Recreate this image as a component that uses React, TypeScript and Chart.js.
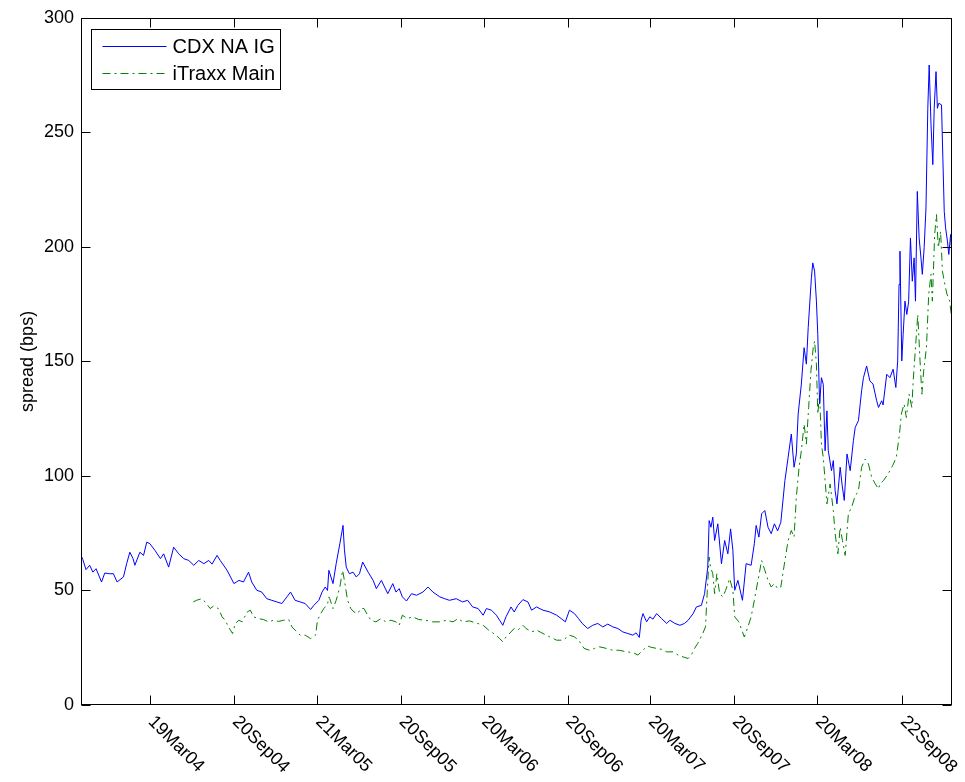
import React, { useEffect, useRef } from "react";
import { Chart, registerables } from "chart.js";

Chart.register(...registerables);

const FONT = '"Liberation Sans", Arial, Helvetica, sans-serif';

const xStart = "2003-10-20";
const xEnd = "2009-01-09";

const tickDates = [
  "2004-03-19", "2004-09-20", "2005-03-21", "2005-09-20", "2006-03-20",
  "2006-09-20", "2007-03-20", "2007-09-20", "2008-03-20", "2008-09-22",
];
const tickLabels = [
  "19Mar04", "20Sep04", "21Mar05", "20Sep05", "20Mar06",
  "20Sep06", "20Mar07", "20Sep07", "20Mar08", "22Sep08",
];
const yMin = 0;
const yMax = 300;
const yStep = 50;
const yTitle = "spread (bps)";
const seriesNames = ["CDX NA IG", "iTraxx Main"];

const cdx: [string, number][] = [
  ["2003-10-20", 65.3], ["2003-10-24", 63.5], ["2003-10-31", 59.1], ["2003-11-08", 61], ["2003-11-15", 58],
  ["2003-11-22", 59.5], ["2003-12-04", 53.7], ["2003-12-11", 57.6], ["2003-12-22", 57.3], ["2003-12-30", 57.3],
  ["2004-01-07", 53.7], ["2004-01-21", 55.9], ["2004-01-28", 61.7], ["2004-02-04", 66.7], ["2004-02-11", 63.9],
  ["2004-02-15", 61], ["2004-02-26", 66.7], ["2004-03-05", 65.3], ["2004-03-12", 71.1], ["2004-03-19", 70.4],
  ["2004-03-30", 67.5], ["2004-04-11", 63.9], ["2004-04-18", 66], ["2004-04-29", 60.2], ["2004-05-10", 68.9],
  ["2004-05-21", 66], ["2004-06-01", 63.9], ["2004-06-12", 63.1], ["2004-06-23", 61], ["2004-07-04", 63.1],
  ["2004-07-15", 61.7], ["2004-07-26", 63.1], ["2004-08-02", 61.5], ["2004-08-13", 65.3], ["2004-08-20", 63.1],
  ["2004-09-04", 58.8], ["2004-09-19", 53], ["2004-09-30", 54.4], ["2004-10-10", 53.7], ["2004-10-21", 58],
  ["2004-10-28", 53.7], ["2004-11-08", 50.1], ["2004-11-19", 49.3], ["2004-11-30", 46.4], ["2004-12-11", 45.7],
  ["2004-12-22", 45], ["2005-01-02", 44.3], ["2005-01-13", 47.2], ["2005-01-21", 49.3], ["2005-01-31", 45.7],
  ["2005-02-11", 45], ["2005-02-22", 44.3], ["2005-03-06", 41.7], ["2005-03-13", 43.5], ["2005-03-24", 45.7],
  ["2005-03-31", 49.3], ["2005-04-07", 51.5], ["2005-04-12", 50], ["2005-04-15", 58.8], ["2005-04-24", 53],
  ["2005-05-01", 61.7], ["2005-05-09", 70.4], ["2005-05-16", 78.4], ["2005-05-19", 68], ["2005-05-23", 60.2],
  ["2005-05-30", 57.3], ["2005-06-07", 58], ["2005-06-14", 55.9], ["2005-06-21", 57.3], ["2005-06-28", 62.4],
  ["2005-07-10", 58], ["2005-07-21", 54.4], ["2005-07-28", 50.8], ["2005-08-08", 54.4], ["2005-08-15", 51.5],
  ["2005-08-22", 48.6], ["2005-09-02", 53], ["2005-09-09", 49.3], ["2005-09-16", 50.8], ["2005-09-23", 47.2],
  ["2005-10-02", 45.4], ["2005-10-13", 48.6], ["2005-10-24", 47.9], ["2005-11-07", 49.3], ["2005-11-18", 51.5],
  ["2005-11-29", 49.3], ["2005-12-14", 47.2], ["2005-12-25", 46.4], ["2006-01-04", 45.7], ["2006-01-19", 46.4],
  ["2006-02-02", 45], ["2006-02-13", 45.7], ["2006-02-24", 42.8], ["2006-03-08", 42.1], ["2006-03-19", 39.2],
  ["2006-03-26", 42.1], ["2006-04-06", 41.4], ["2006-04-17", 39.2], ["2006-04-24", 37], ["2006-05-01", 34.8],
  ["2006-05-08", 38.5], ["2006-05-19", 42.8], ["2006-05-26", 40.6], ["2006-06-03", 43.5], ["2006-06-14", 46],
  ["2006-06-25", 45], ["2006-07-03", 41.4], ["2006-07-14", 42.8], ["2006-07-28", 41.4], ["2006-08-12", 40.6],
  ["2006-08-27", 39.2], ["2006-09-06", 37.7], ["2006-09-15", 36.3], ["2006-09-24", 41.4], ["2006-10-05", 39.9],
  ["2006-10-14", 37.7], ["2006-10-22", 35.6], ["2006-11-03", 33.4], ["2006-11-14", 34.8], ["2006-11-25", 35.6],
  ["2006-12-06", 34.1], ["2006-12-17", 35.3], ["2006-12-28", 34.1], ["2007-01-08", 33.4], ["2007-01-19", 31.9],
  ["2007-01-30", 31.2], ["2007-02-10", 30.5], ["2007-02-17", 31.5], ["2007-02-24", 29.5], ["2007-02-28", 37],
  ["2007-03-04", 39.9], ["2007-03-12", 36.3], ["2007-03-19", 38.5], ["2007-03-26", 37.5], ["2007-04-03", 39.9],
  ["2007-04-14", 37.7], ["2007-04-25", 35.6], ["2007-05-02", 37], ["2007-05-13", 35.6], ["2007-05-24", 34.8],
  ["2007-06-03", 35.6], ["2007-06-11", 37], ["2007-06-22", 39.9], ["2007-06-29", 42.8], ["2007-07-10", 43.5],
  ["2007-07-17", 48.6], ["2007-07-24", 60.2], ["2007-07-27", 80.5], ["2007-07-31", 77.6], ["2007-08-04", 82],
  ["2007-08-08", 71.8], ["2007-08-15", 79.1], ["2007-08-23", 61.7], ["2007-08-30", 71.8], ["2007-09-06", 66],
  ["2007-09-12", 76.9], ["2007-09-17", 67.5], ["2007-09-21", 50.1], ["2007-09-28", 54.4], ["2007-10-08", 45.7],
  ["2007-10-16", 61.7], ["2007-10-27", 61], ["2007-11-03", 70.4], ["2007-11-07", 78.4], ["2007-11-13", 73.3],
  ["2007-11-19", 83.5], ["2007-11-26", 84.9], ["2007-12-03", 77.6], ["2007-12-10", 74.8], ["2007-12-17", 79.1],
  ["2007-12-24", 76], ["2007-12-31", 79.8], ["2008-01-09", 98], ["2008-01-16", 108.1], ["2008-01-23", 118.3],
  ["2008-01-29", 103.8], ["2008-02-03", 109.6], ["2008-02-07", 127], ["2008-02-14", 140.1], ["2008-02-20", 156],
  ["2008-02-25", 148.8], ["2008-02-29", 164.7], ["2008-03-07", 186.5], ["2008-03-10", 193], ["2008-03-14", 189.4],
  ["2008-03-18", 176.3], ["2008-03-21", 161.8], ["2008-03-25", 131.4], ["2008-03-29", 142.9], ["2008-04-02", 140],
  ["2008-04-06", 111], ["2008-04-10", 128.4], ["2008-04-13", 111], ["2008-04-20", 102.3], ["2008-04-24", 106.7],
  ["2008-04-28", 93.6], ["2008-05-02", 87.8], ["2008-05-09", 103.8], ["2008-05-13", 96.5], ["2008-05-18", 89.3],
  ["2008-05-24", 109.6], ["2008-05-31", 102.3], ["2008-06-07", 115.4], ["2008-06-11", 121.2], ["2008-06-18", 124.1],
  ["2008-06-25", 137.2], ["2008-06-29", 142.9], ["2008-07-06", 148], ["2008-07-13", 141.5], ["2008-07-20", 140.1],
  ["2008-07-28", 132.8], ["2008-08-01", 129.9], ["2008-08-08", 132.8], ["2008-08-11", 131], ["2008-08-19", 144.4],
  ["2008-08-26", 142.9], ["2008-09-02", 146.6], ["2008-09-08", 138.6], ["2008-09-12", 150.2], ["2008-09-15", 183.6],
  ["2008-09-17", 198.1], ["2008-09-21", 150.2], ["2008-09-24", 161.8], ["2008-09-28", 176.3], ["2008-10-02", 170.5],
  ["2008-10-06", 176], ["2008-10-10", 203.9], ["2008-10-14", 185], ["2008-10-18", 195.2], ["2008-10-21", 176.3],
  ["2008-10-25", 224.2], ["2008-10-29", 203.9], ["2008-11-02", 195.2], ["2008-11-05", 188], ["2008-11-09", 199.6],
  ["2008-11-13", 217], ["2008-11-17", 260.5], ["2008-11-20", 279.4], ["2008-11-24", 253.3], ["2008-11-28", 235.9],
  ["2008-12-01", 260.5], ["2008-12-05", 276.5], ["2008-12-08", 260.5], ["2008-12-11", 262.7], ["2008-12-17", 262],
  ["2008-12-20", 238.7], ["2008-12-23", 215.5], ["2008-12-26", 208.3], ["2008-12-30", 202.5], ["2009-01-02", 196.7],
  ["2009-01-06", 205.4], ["2009-01-09", 195.2],
];

const itraxx: [string, number][] = [
  ["2004-06-22", 45], ["2004-06-29", 45.7], ["2004-07-10", 46.4], ["2004-07-18", 45], ["2004-07-29", 42.1],
  ["2004-08-05", 43.1], ["2004-08-16", 42.1], ["2004-08-24", 38.5], ["2004-08-31", 37], ["2004-09-07", 34.1],
  ["2004-09-16", 31.2], ["2004-09-22", 35.6], ["2004-09-30", 37], ["2004-10-07", 36.3], ["2004-10-18", 40.6],
  ["2004-10-25", 41.4], ["2004-11-01", 38.5], ["2004-11-12", 37.7], ["2004-11-23", 37.3], ["2004-12-04", 36.3],
  ["2004-12-15", 37], ["2004-12-26", 36.5], ["2005-01-06", 37], ["2005-01-17", 37.3], ["2005-01-24", 34.1],
  ["2005-01-31", 32.7], ["2005-02-11", 30.5], ["2005-02-22", 30.5], ["2005-03-06", 29], ["2005-03-17", 30.5],
  ["2005-03-21", 37], ["2005-03-28", 39.9], ["2005-04-04", 42.1], ["2005-04-12", 44], ["2005-04-15", 47.2],
  ["2005-04-17", 46.4], ["2005-04-24", 42.1], ["2005-05-01", 45.7], ["2005-05-09", 51.5], ["2005-05-15", 58.8],
  ["2005-05-19", 54.4], ["2005-05-26", 45.7], ["2005-06-02", 42.1], ["2005-06-09", 40.6], ["2005-06-17", 39.9],
  ["2005-06-24", 42.1], ["2005-07-01", 42.1], ["2005-07-09", 39.2], ["2005-07-16", 37], ["2005-07-27", 36.3],
  ["2005-08-07", 37.7], ["2005-08-18", 36.3], ["2005-08-29", 37], ["2005-09-09", 36.3], ["2005-09-16", 34.8],
  ["2005-09-23", 39.2], ["2005-10-04", 37.7], ["2005-10-15", 38.5], ["2005-10-29", 37.3], ["2005-11-13", 37],
  ["2005-11-28", 36.3], ["2005-12-14", 36.3], ["2005-12-29", 37], ["2006-01-12", 36.3], ["2006-01-23", 37.7],
  ["2006-02-03", 36.3], ["2006-02-17", 36.7], ["2006-03-04", 35.8], ["2006-03-19", 34.8], ["2006-03-31", 32.7],
  ["2006-04-16", 30.5], ["2006-04-24", 29], ["2006-05-01", 27.6], ["2006-05-08", 29.7], ["2006-05-19", 31.9],
  ["2006-05-26", 33.4], ["2006-06-03", 32.7], ["2006-06-14", 34.8], ["2006-06-21", 33.4], ["2006-07-03", 31.9],
  ["2006-07-14", 32.7], ["2006-07-28", 31.2], ["2006-08-12", 29.7], ["2006-08-27", 28.3], ["2006-09-10", 28.3],
  ["2006-09-24", 30.5], ["2006-10-05", 29.7], ["2006-10-14", 28.3], ["2006-10-26", 24.7], ["2006-11-07", 23.9],
  ["2006-11-18", 24.7], ["2006-11-29", 25.4], ["2006-12-14", 24.7], ["2006-12-28", 23.9], ["2007-01-11", 23.9],
  ["2007-01-27", 23.2], ["2007-02-10", 22.9], ["2007-02-21", 21.8], ["2007-02-28", 23.2], ["2007-03-08", 24.7],
  ["2007-03-15", 25.7], ["2007-03-22", 25.2], ["2007-04-03", 24.7], ["2007-04-14", 24.3], ["2007-04-25", 23.2],
  ["2007-05-09", 23.2], ["2007-05-20", 21.8], ["2007-05-31", 21], ["2007-06-11", 20.3], ["2007-06-18", 21.8],
  ["2007-06-25", 24.7], ["2007-07-02", 26.9], ["2007-07-13", 31.2], ["2007-07-19", 34.1], ["2007-07-23", 50.1],
  ["2007-07-27", 64.6], ["2007-07-30", 60.2], ["2007-08-04", 57.3], ["2007-08-08", 48.6], ["2007-08-13", 57.3],
  ["2007-08-19", 48.6], ["2007-08-26", 47.2], ["2007-09-01", 50], ["2007-09-10", 55.2], ["2007-09-17", 50.1],
  ["2007-09-21", 38.5], ["2007-09-30", 36.3], ["2007-10-12", 29.7], ["2007-10-20", 34.1], ["2007-10-27", 38.5],
  ["2007-11-03", 45.7], ["2007-11-11", 54.4], ["2007-11-19", 63.1], ["2007-11-26", 58.8], ["2007-12-03", 54.4],
  ["2007-12-10", 51.5], ["2007-12-17", 53], ["2007-12-24", 50.8], ["2007-12-31", 51.5], ["2008-01-09", 63.1],
  ["2008-01-16", 71.8], ["2008-01-23", 76.2], ["2008-01-29", 73.3], ["2008-02-03", 90.7], ["2008-02-09", 103.8],
  ["2008-02-14", 111], ["2008-02-20", 122.6], ["2008-02-25", 113.9], ["2008-03-01", 129.9], ["2008-03-06", 145.9],
  ["2008-03-11", 156], ["2008-03-14", 158.9], ["2008-03-18", 148.8], ["2008-03-21", 127], ["2008-03-25", 135.7],
  ["2008-03-29", 113.9], ["2008-04-02", 108.1], ["2008-04-06", 98], ["2008-04-10", 87.8], ["2008-04-17", 96.5],
  ["2008-04-24", 84.9], ["2008-04-28", 74.8], ["2008-05-04", 66], ["2008-05-09", 77.6], ["2008-05-14", 71.8],
  ["2008-05-20", 65.3], ["2008-05-27", 83.5], ["2008-06-03", 86.3], ["2008-06-10", 90.7], ["2008-06-18", 93.6],
  ["2008-06-25", 103.8], ["2008-07-03", 107.4], ["2008-07-10", 105.2], ["2008-07-17", 99.4], ["2008-07-25", 96.5],
  ["2008-08-01", 94.3], ["2008-08-04", 96.5], ["2008-08-12", 98], ["2008-08-22", 100.9], ["2008-09-01", 104.5],
  ["2008-09-09", 108.1], ["2008-09-16", 118.3], ["2008-09-20", 127], ["2008-09-26", 131.4], ["2008-10-01", 125.5],
  ["2008-10-07", 135.7], ["2008-10-13", 129.9], ["2008-10-16", 141.5], ["2008-10-22", 158.9], ["2008-10-26", 170.5],
  ["2008-10-31", 150.2], ["2008-11-04", 135.7], ["2008-11-08", 145.9], ["2008-11-14", 156], ["2008-11-19", 179.3],
  ["2008-11-24", 188], ["2008-11-27", 176.3], ["2008-12-02", 205.4], ["2008-12-06", 214.1], ["2008-12-10", 199.6],
  ["2008-12-15", 206.8], ["2008-12-19", 189.4], ["2008-12-23", 185], ["2008-12-29", 179.3], ["2009-01-04", 176.3],
  ["2009-01-09", 167.6],
];

const toDay = (s: string) => {
  const [y, m, d] = s.split("-").map(Number);
  return Date.UTC(y, m - 1, d) / 86400000;
};

const TICK_LEN = 9;

const matlabPlugin = {
  id: "matlabAxes",
  afterDraw(chart: any) {
    const { ctx, chartArea: a, scales } = chart;
    const xs = scales.x;
    const ys = scales.y;
    ctx.save();
    const L = Math.round(a.left) + 0.5;
    const R = Math.round(a.right) - 0.5;
    const T = Math.round(a.top) + 0.5;
    const B = Math.round(a.bottom) - 0.5;
    ctx.strokeStyle = "#000";
    ctx.lineWidth = 1;
    ctx.setLineDash([]);
    ctx.strokeRect(L, T, R - L, B - T);
    ctx.beginPath();
    xs.ticks.forEach((t: any) => {
      const px = Math.round(xs.getPixelForValue(t.value)) + 0.5;
      ctx.moveTo(px, B);
      ctx.lineTo(px, B - TICK_LEN);
      ctx.moveTo(px, T);
      ctx.lineTo(px, T + TICK_LEN);
    });
    ys.ticks.forEach((t: any) => {
      const py = Math.round(ys.getPixelForValue(t.value)) + 0.5;
      ctx.moveTo(L, py);
      ctx.lineTo(L + TICK_LEN, py);
      ctx.moveTo(R, py);
      ctx.lineTo(R - TICK_LEN, py);
    });
    ctx.stroke();

    // rotated x tick labels
    ctx.fillStyle = "#000";
    ctx.font = `18px ${FONT}`;
    ctx.textAlign = "left";
    ctx.textBaseline = "middle";
    xs.ticks.forEach((t: any, i: number) => {
      const px = xs.getPixelForValue(t.value);
      ctx.save();
      ctx.translate(px + 1, a.bottom + 14);
      ctx.rotate(Math.PI / 4);
      ctx.fillText(tickLabels[i] ?? "", 0, 0);
      ctx.restore();
    });

    // legend box
    const ds = chart.data.datasets;
    ctx.font = `20px ${FONT}`;
    const bx = Math.round(a.left) + 10.5;
    const by = Math.round(a.top) + 11.5;
    const lineX0 = bx + 11;
    const lineX1 = bx + 75;
    const textX = bx + 81;
    let maxW = 0;
    ds.forEach((d: any) => {
      maxW = Math.max(maxW, ctx.measureText(d.label).width);
    });
    const bw = Math.round(textX + maxW + 5 - bx);
    const bh = 60;
    ctx.fillStyle = "#fff";
    ctx.fillRect(bx, by, bw, bh);
    ctx.strokeStyle = "#000";
    ctx.strokeRect(bx, by, bw, bh);
    ds.forEach((d: any, i: number) => {
      const cy = Math.round(by + 16 + i * 27) + 0.5;
      ctx.strokeStyle = d.borderColor;
      ctx.lineWidth = d.borderWidth;
      ctx.setLineDash(d.borderDash || []);
      ctx.beginPath();
      ctx.moveTo(lineX0, cy);
      ctx.lineTo(lineX1, cy);
      ctx.stroke();
      ctx.setLineDash([]);
      ctx.fillStyle = "#000";
      ctx.textBaseline = "middle";
      ctx.fillText(d.label, textX, cy + 1);
    });
    ctx.restore();
  },
};

export default function App() {
  const ref = useRef<HTMLCanvasElement | null>(null);
  useEffect(() => {
    if (!ref.current) return;
    const yTicks: number[] = [];
    for (let v = yMin; v <= yMax; v += yStep) yTicks.push(v);
    const chart = new Chart(ref.current, {
      type: "line",
      data: {
        datasets: [
          {
            label: seriesNames[0],
            data: cdx.map(([d, v]) => ({ x: toDay(d), y: v })),
            borderColor: "#0000ff",
            borderWidth: 1,
            pointRadius: 0,
            tension: 0,
            fill: false,
          },
          {
            label: seriesNames[1],
            data: itraxx.map(([d, v]) => ({ x: toDay(d), y: v })),
            borderColor: "#008000",
            borderWidth: 1,
            borderDash: [8, 4, 2, 4],
            pointRadius: 0,
            tension: 0,
            fill: false,
          },
        ],
      },
      options: {
        animation: false,
        responsive: false,
        devicePixelRatio: 1,
        layout: { padding: { top: 16, right: 13, left: 0, bottom: 0 } },
        plugins: { legend: { display: false }, tooltip: { enabled: false } },
        scales: {
          x: {
            type: "linear",
            min: toDay(xStart),
            max: toDay(xEnd),
            grid: { display: false },
            border: { display: false },
            ticks: { display: false },
            afterBuildTicks: (s: any) => {
              s.ticks = tickDates.map((d) => ({ value: toDay(d) }));
            },
            afterFit: (s: any) => {
              s.height = 77;
            },
          },
          y: {
            type: "linear",
            min: yMin,
            max: yMax,
            grid: { display: false, drawTicks: false },
            border: { display: false },
            afterBuildTicks: (s: any) => {
              s.ticks = yTicks.map((v) => ({ value: v }));
            },
            ticks: {
              padding: 7,
              color: "#000",
              font: { family: FONT, size: 18 },
              callback: (v: any) => String(v),
            },
            title: {
              display: true,
              text: yTitle,
              color: "#000",
              font: { family: FONT, size: 18 },
              padding: { top: 17, bottom: 0 },
            },
            afterFit: (s: any) => {
              s.width = 81;
            },
          },
        },
      },
      plugins: [matlabPlugin],
    });
    return () => chart.destroy();
  }, []);
  return (
    <div style={{ position: "fixed", left: 0, top: 0, width: 965, height: 782, background: "#fff" }}>
      <canvas ref={ref} width={965} height={782} style={{ width: 965, height: 782 }} />
    </div>
  );
}
